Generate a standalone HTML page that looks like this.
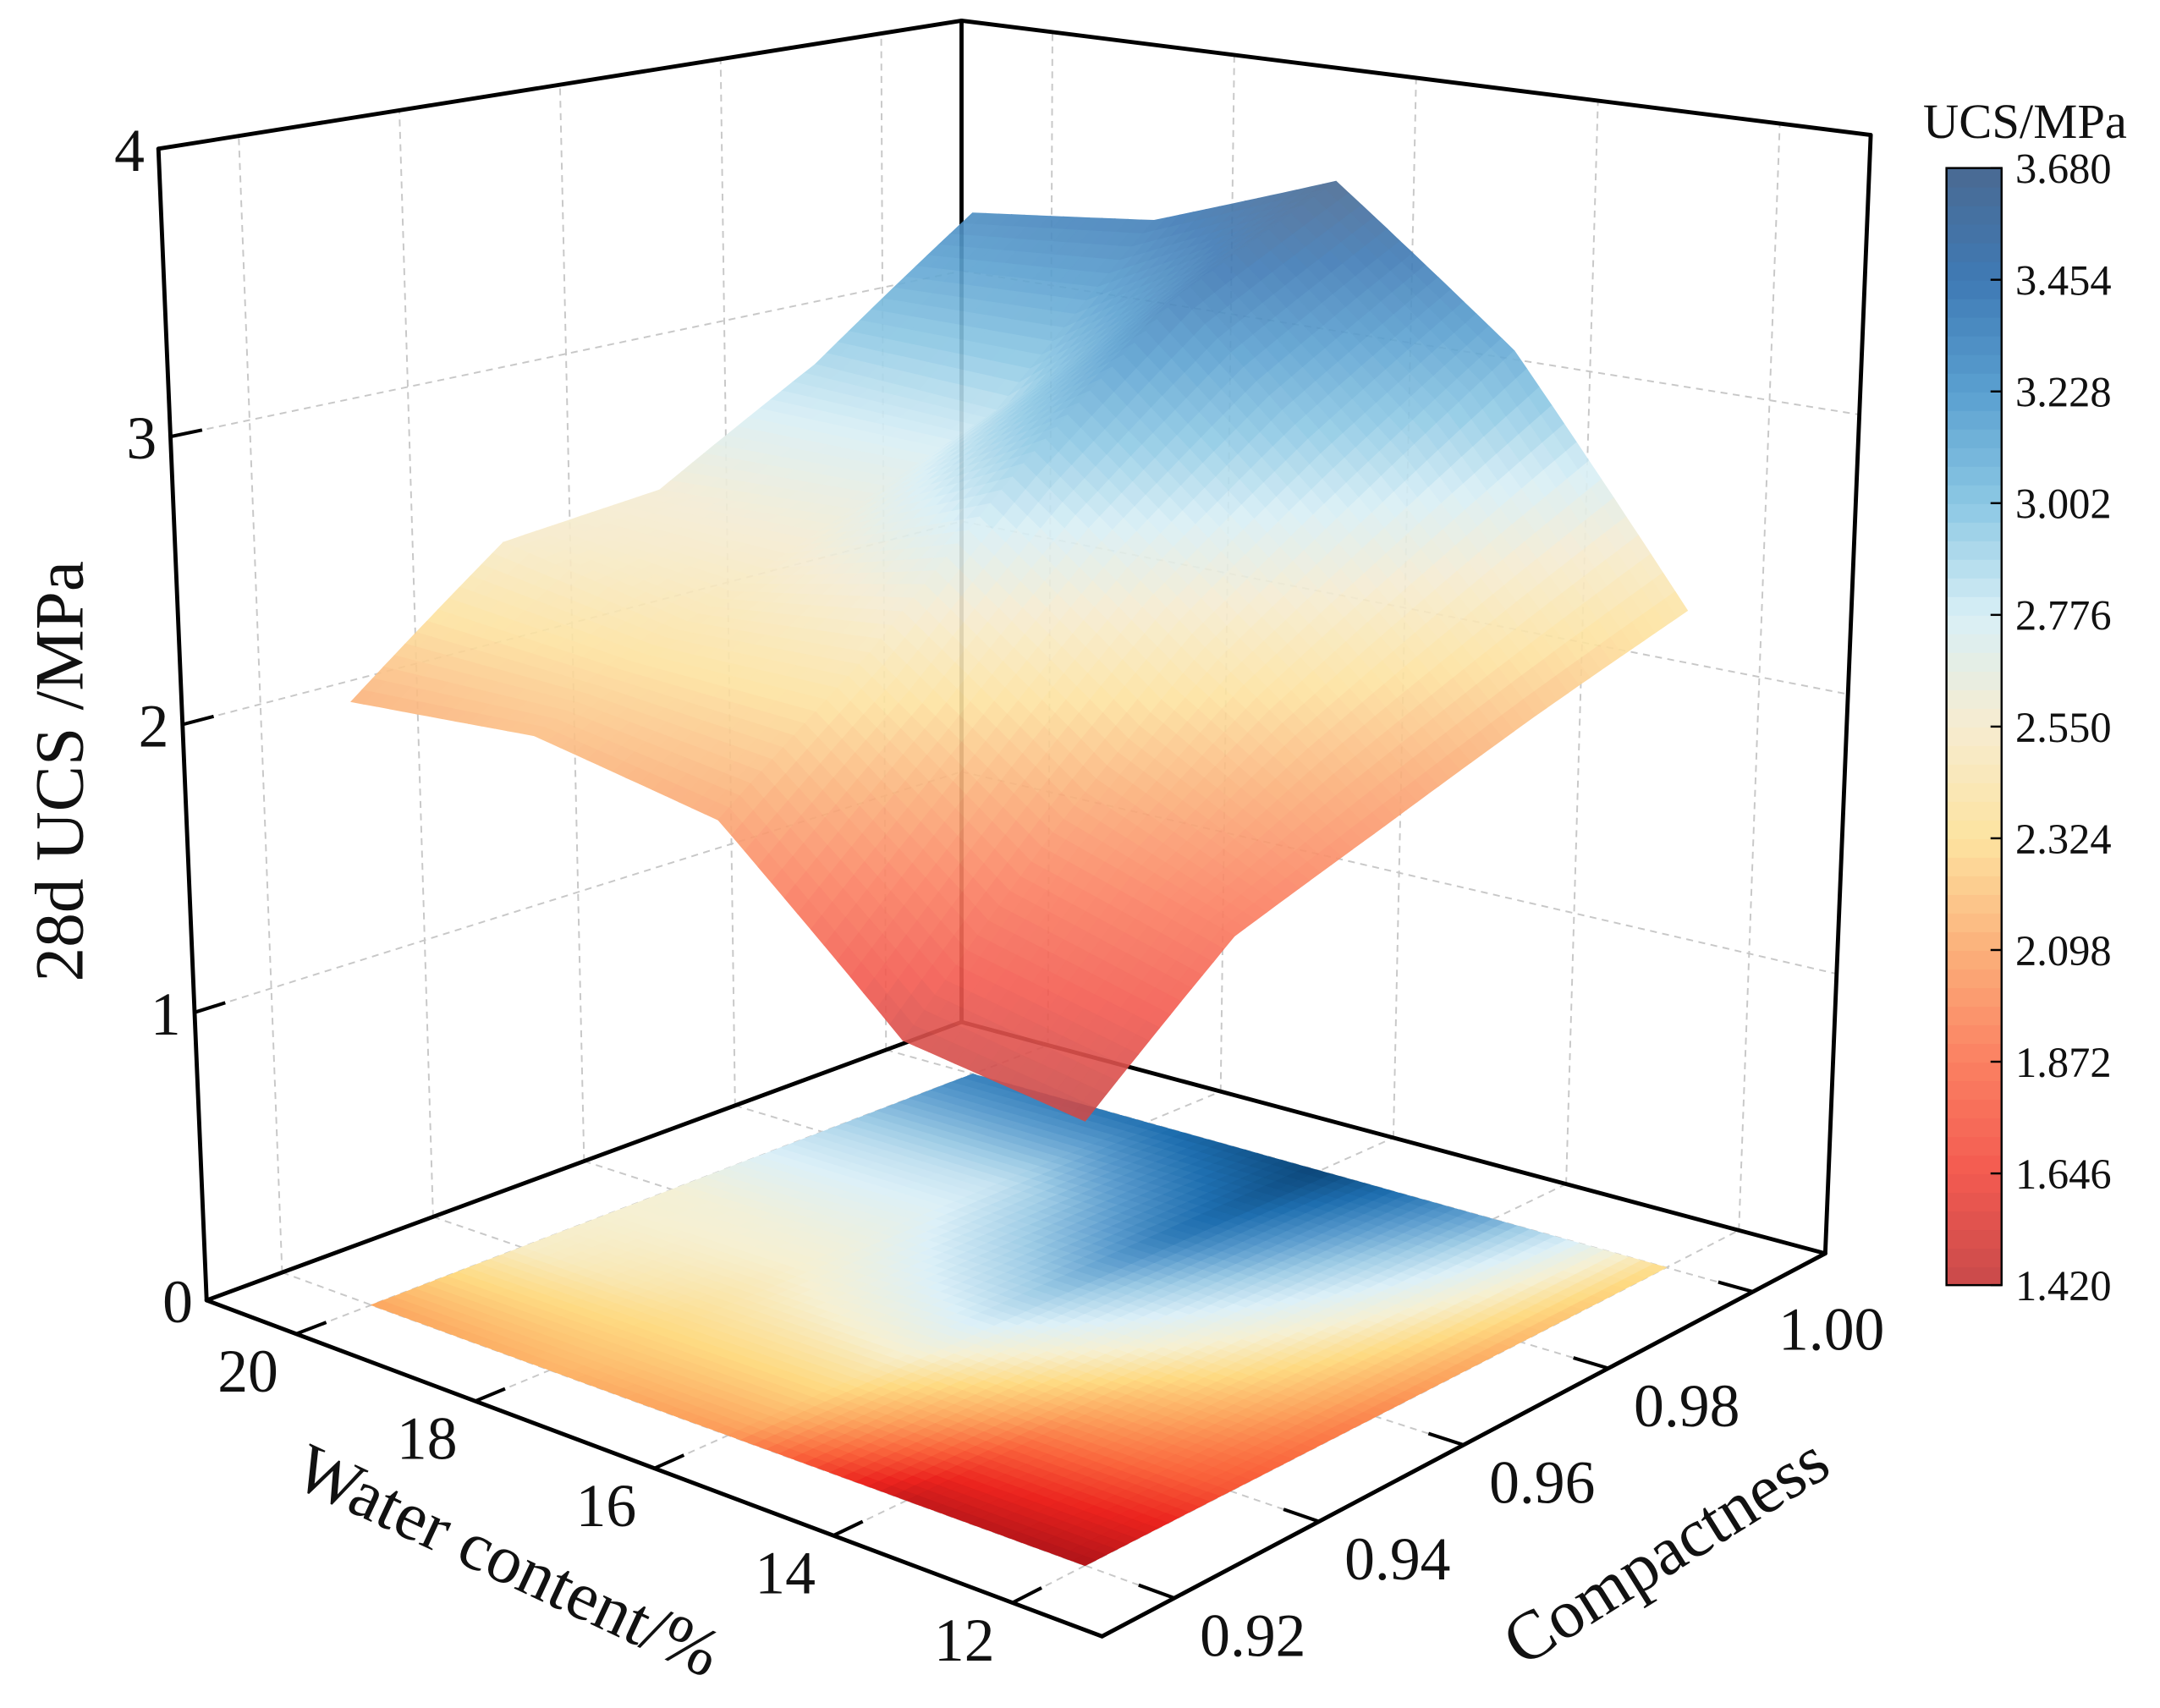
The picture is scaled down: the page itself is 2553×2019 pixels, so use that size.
<!DOCTYPE html>
<html><head><meta charset="utf-8"><style>
html,body{margin:0;padding:0;background:#fff;}
svg{display:block;}
text{font-family:"Liberation Serif",serif;fill:#111;}
</style></head><body>
<svg id="chart" xmlns="http://www.w3.org/2000/svg" width="2553" height="2019" viewBox="0 0 1568 1240" preserveAspectRatio="none">
<g id="grid"></g>
<g id="backEdges"></g>
<g id="floor"></g>
<g id="surface" opacity="0.9"></g>
<g id="axes"></g>
<g id="labels"></g>
<text x="0" y="0" font-size="50" text-anchor="middle" transform="translate(60,560) rotate(-90)">28d UCS /MPa</text>
<text x="0" y="0" font-size="50" text-anchor="middle" transform="translate(362,1148) rotate(25)">Water content/%</text>
<text x="0" y="0" font-size="50" text-anchor="middle" transform="translate(1218,1140) rotate(-32)">Compactness</text>
<g id="colorbar"></g>
<text x="1470" y="100" font-size="36" text-anchor="middle">UCS/MPa</text>
</svg>
<script>
const waterVals = [12, 14, 16, 18, 20];
const compVals = [0.92, 0.94, 0.96, 0.98, 1.00];
// rows: water 12,14,16,18,20 ; cols: compactness 0.92..1.00
const ucsRow12 = [1.42, 1.82, 1.99, 2.17, 2.34];
const ucsRow14 = [1.50, 2.00, 2.45, 2.80, 3.16];
const ucsRow16 = [2.05, 2.45, 2.95, 3.40, 3.68];
const ucsRow18 = [2.16, 2.40, 2.62, 2.86, 3.43];
const ucsRow20 = [2.10, 2.52, 2.57, 2.90, 3.35];
const ucs = [ucsRow12, ucsRow14, ucsRow16, ucsRow18, ucsRow20];
const zTicks = [0, 1, 2, 3, 4];
const cbTicks = [3.680, 3.454, 3.228, 3.002, 2.776, 2.550, 2.324, 2.098, 1.872, 1.646, 1.420];

const NS = "http://www.w3.org/2000/svg";
const W0 = 21, W1 = 11, C0 = 0.91, C1 = 1.01, ZMAX = 4;
const L=[150,944],F=[800,1188],R=[1325,910],B=[698,742];
const LT=[115,108],FT=[800,258],RT=[1358,98],BT=[698,15];
function bil(a,b,c,d,s,t){
  return [0,1].map(i=>(1-s)*(1-t)*a[i]+s*(1-t)*b[i]+s*t*c[i]+(1-s)*t*d[i]);
}
function proj(w,c,z){
  const s=(W0-w)/(W0-W1), t=(c-C0)/(C1-C0);
  const f=bil(L,F,R,B,s,t), tp=bil(LT,FT,RT,BT,s,t);
  const k=z/ZMAX;
  return [f[0]+k*(tp[0]-f[0]), f[1]+k*(tp[1]-f[1])];
}
const surfStops=[[1.42,[200,74,74]],[1.646,[243,90,80]],[1.872,[251,128,98]],[2.098,[251,176,122]],[2.324,[253,227,160]],[2.55,[246,236,208]],[2.776,[216,239,246]],[3.002,[140,200,228]],[3.228,[90,160,208]],[3.454,[63,122,181]],[3.68,[74,106,146]]];
const floorStops=[[1.42,[175,20,25]],[1.646,[235,35,30]],[1.872,[250,100,60]],[2.098,[252,165,95]],[2.324,[254,218,130]],[2.55,[246,240,210]],[2.776,[220,240,248]],[3.002,[160,205,230]],[3.228,[90,155,205]],[3.454,[30,110,175]],[3.68,[12,70,120]]];
function cmap(stops,v){
  if(v<=stops[0][0]) return 'rgb('+stops[0][1].join(',')+')';
  for(let i=1;i<stops.length;i++){
    if(v<=stops[i][0]){
      const a=stops[i-1],b=stops[i],k=(v-a[0])/(b[0]-a[0]);
      return 'rgb('+[0,1,2].map(j=>Math.round(a[1][j]+k*(b[1][j]-a[1][j]))).join(',')+')';
    }
  }
  return 'rgb('+stops[stops.length-1][1].join(',')+')';
}
function el(tag,attrs,parent){
  const e=document.createElementNS(NS,tag);
  for(const k in attrs) e.setAttribute(k,attrs[k]);
  parent.appendChild(e); return e;
}
function line(p,q,parent,style,name){
  const e=el('line',{x1:p[0],y1:p[1],x2:q[0],y2:q[1]},parent);
  for(const k in style) e.setAttribute(k,style[k]);
  
  
  return e;
}
const grid=document.getElementById('grid');
const gs={stroke:'#c8c8c8','stroke-width':1.2,'stroke-dasharray':'5,4'};
compVals.forEach(c=>line(proj(W0,c,0),proj(W0,c,ZMAX),grid,gs,'left-wall-gridline'));
[1,2,3].forEach(z=>line(proj(W0,C0,z),proj(W0,C1,z),grid,gs,'left-wall-gridline'));
waterVals.forEach(w=>line(proj(w,C1,0),proj(w,C1,ZMAX),grid,gs,'right-wall-gridline'));
[1,2,3].forEach(z=>line(proj(W0,C1,z),proj(W1,C1,z),grid,gs,'right-wall-gridline'));
waterVals.forEach(w=>line(proj(w,C0,0),proj(w,C1,0),grid,gs,'floor-gridline'));
compVals.forEach(c=>line(proj(W0,c,0),proj(W1,c,0),grid,gs,'floor-gridline'));

const ax={stroke:'#000','stroke-width':3,'stroke-linecap':'round'};
const be=document.getElementById('backEdges');
line(proj(W0,C1,0),proj(W0,C1,ZMAX),be,ax,'back-vertical-edge');
line(proj(W0,C0,0),proj(W0,C1,0),be,ax,'floor-back-left-edge');
line(proj(W0,C1,0),proj(W1,C1,0),be,ax,'floor-back-right-edge');
line(proj(W0,C0,ZMAX),proj(W0,C1,ZMAX),be,ax,'top-left-edge');
line(proj(W0,C1,ZMAX),proj(W1,C1,ZMAX),be,ax,'top-right-edge');

function val(fi,fj){
  const i=Math.min(Math.floor(fi),3), j=Math.min(Math.floor(fj),3);
  const a=fi-i,b=fj-j;
  return (1-a)*(1-b)*ucs[i][j]+a*(1-b)*ucs[i+1][j]+a*b*ucs[i+1][j+1]+(1-a)*b*ucs[i][j+1];
}
const N=14, M=4*N;
const cells=[];
for(let i=0;i<M;i++)for(let j=0;j<M;j++){
  const fi0=i/N,fi1=(i+1)/N,fj0=j/N,fj1=(j+1)/N;
  const wi=f=>waterVals[0]+f*2, cj=f=>compVals[0]+f*0.02;
  const w0=wi(fi0),w1=wi(fi1),c0=cj(fj0),c1=cj(fj1);
  const s=(W0-(w0+w1)/2)/(W0-W1), t=((c0+c1)/2-C0)/(C1-C0);
  cells.push({fi0,fi1,fj0,fj1,w0,w1,c0,c1,depth:s-t,v:val((fi0+fi1)/2,(fj0+fj1)/2)});
}
cells.sort((a,b)=>a.depth-b.depth);
const floorG=document.getElementById('floor'), surfG=document.getElementById('surface');
cells.forEach(q=>{
  const corners=[[q.w0,q.c0],[q.w1,q.c0],[q.w1,q.c1],[q.w0,q.c1]];
  const fp=corners.map(k=>proj(k[0],k[1],0).map(x=>x.toFixed(1)).join(',')).join(' ');
  const fc=cmap(floorStops,q.v);
  const p1=el('polygon',{points:fp,fill:fc,stroke:fc,'stroke-width':0.6},floorG);
  
  
});
cells.forEach(q=>{
  const corners=[[q.w0,q.c0,q.fi0,q.fj0],[q.w1,q.c0,q.fi1,q.fj0],[q.w1,q.c1,q.fi1,q.fj1],[q.w0,q.c1,q.fi0,q.fj1]];
  const sp=corners.map(k=>proj(k[0],k[1],val(k[2],k[3])).map(x=>x.toFixed(1)).join(',')).join(' ');
  const sc=cmap(surfStops,q.v);
  const p2=el('polygon',{points:sp,fill:sc,stroke:sc,'stroke-width':0.6},surfG);
  
  
});

const axes=document.getElementById('axes');
line(proj(W0,C0,0),proj(W0,C0,ZMAX),axes,ax,'z-axis-line');
line(proj(W1,C1,0),proj(W1,C1,ZMAX),axes,ax,'right-vertical-edge');
line(proj(W0,C0,0),proj(W1,C0,0),axes,ax,'water-axis-line');
line(proj(W1,C0,0),proj(W1,C1,0),axes,ax,'compactness-axis-line');
const tk={stroke:'#000','stroke-width':2.5};
const labels=document.getElementById('labels');
function txt(x,y,s,size,anchor,name){
  const e=el('text',{x:x,y:y,'font-size':size,'text-anchor':anchor},labels);
  e.textContent=s;
  
  
}
waterVals.forEach(w=>{
  line(proj(w,C0,0),proj(w,C0+0.004,0),axes,tk,'water-tick');
  const p=proj(w,C0,0);
  txt(p[0]-35,p[1]+42,String(w),44,'middle','water-tick-label');
});
compVals.forEach(c=>{
  line(proj(W1,c,0),proj(W1+0.4,c,0),axes,tk,'compactness-tick');
  const p=proj(W1,c,0);
  txt(p[0]+57,p[1]+42,c.toFixed(2),44,'middle','compactness-tick-label');
});
zTicks.forEach(z=>{
  line(proj(W0,C0,z),proj(W0,C0+0.004,z),axes,tk,'z-tick');
  const p=proj(W0,C0,z);
  txt(p[0]-10,p[1]+16,String(z),44,'end','z-tick-label');
});

const cb=document.getElementById('colorbar');
const cbX=1413,cbW=40,cbTop=122,cbBot=933,vmin=1.42,vmax=3.68;
const cy=v=>cbBot-(v-vmin)/(vmax-vmin)*(cbBot-cbTop);
for(let k=0;k<60;k++){
  const v0=vmin+k*(vmax-vmin)/60, v1=vmin+(k+1)*(vmax-vmin)/60;
  const r=el('rect',{x:cbX,y:cy(v1),width:cbW,height:cy(v0)-cy(v1)+0.6,fill:cmap(surfStops,(v0+v1)/2)},cb);
  
  
}
const fr=el('rect',{x:cbX,y:cbTop,width:cbW,height:cbBot-cbTop,fill:'none',stroke:'#000','stroke-width':1.5},cb);


cbTicks.forEach(v=>{
  const y=cy(v);
  line([cbX+cbW-8,y],[cbX+cbW,y],cb,{stroke:'#000','stroke-width':1.5},'colorbar-tick');
  const t=el('text',{x:cbX+cbW+10,y:y+11,'font-size':31,'text-anchor':'start'},cb);
  t.textContent=v.toFixed(3);
  
  
});
</script>
</body></html>
